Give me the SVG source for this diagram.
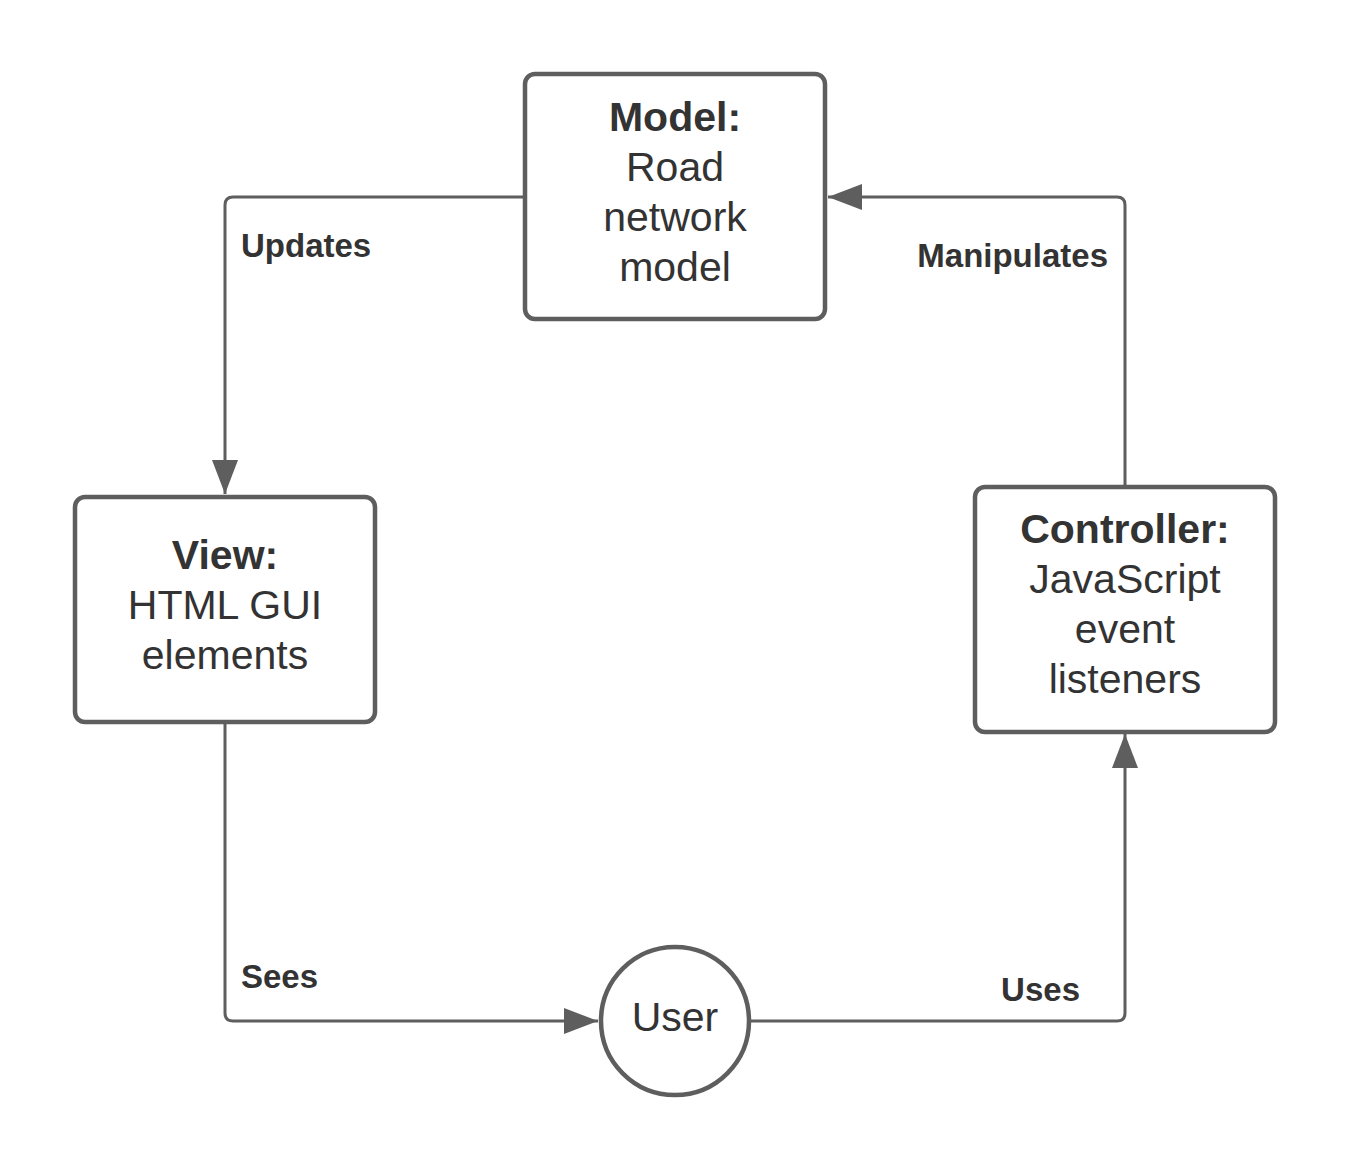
<svg xmlns="http://www.w3.org/2000/svg" width="1350" height="1172" viewBox="0 0 1350 1172">
<style>
.box{fill:#fff;stroke:#5e5e5e;stroke-width:4.5}
.edge{fill:none;stroke:#5e5e5e;stroke-width:3}
.t{font-family:"Liberation Sans",Arial,sans-serif;font-size:41px;fill:#333;text-anchor:middle}
.b{font-weight:bold}
.lbl{font-family:"Liberation Sans",Arial,sans-serif;font-size:33px;font-weight:bold;fill:#333}
</style>
<defs>
<marker id="arr" markerWidth="34" markerHeight="26" refX="34" refY="13" orient="auto" markerUnits="userSpaceOnUse">
<path d="M0,0 L34,13 L0,26 Z" fill="#5e5e5e"/>
</marker>
</defs>
<rect width="1350" height="1172" fill="#fff"/>
<g id="connectors">
<path class="edge" d="M524,197 H233 Q225,197 225,205 V494" marker-end="url(#arr)"/>
<path class="edge" d="M1125,486 V205 Q1125,197 1117,197 H828" marker-end="url(#arr)"/>
<path class="edge" d="M225,722 V1013 Q225,1021 233,1021 H598" marker-end="url(#arr)"/>
<path class="edge" d="M750,1021 H1117 Q1125,1021 1125,1013 V734" marker-end="url(#arr)"/>
<text class="lbl" x="241" y="257">Updates</text>
<text class="lbl" x="1108" y="267" text-anchor="end">Manipulates</text>
<text class="lbl" x="241" y="988">Sees</text>
<text class="lbl" x="1080" y="1001" text-anchor="end">Uses</text>
</g>
<g id="model">
<rect class="box" x="525" y="74" width="300" height="245" rx="10"/>
<text class="t b" x="675" y="131">Model:</text>
<text class="t" x="675" y="181">Road</text>
<text class="t" x="675" y="231">network</text>
<text class="t" x="675" y="281">model</text>
</g>
<g id="view">
<rect class="box" x="75" y="497" width="300" height="225" rx="10"/>
<text class="t b" x="225" y="569">View:</text>
<text class="t" x="225" y="619">HTML GUI</text>
<text class="t" x="225" y="669">elements</text>
</g>
<g id="controller">
<rect class="box" x="975" y="487" width="300" height="245" rx="10"/>
<text class="t b" x="1125" y="543">Controller:</text>
<text class="t" x="1125" y="593">JavaScript</text>
<text class="t" x="1125" y="643">event</text>
<text class="t" x="1125" y="693">listeners</text>
</g>
<g id="user">
<circle class="box" cx="675" cy="1021" r="74"/>
<text class="t" x="675" y="1031">User</text>
</g>
</svg>
